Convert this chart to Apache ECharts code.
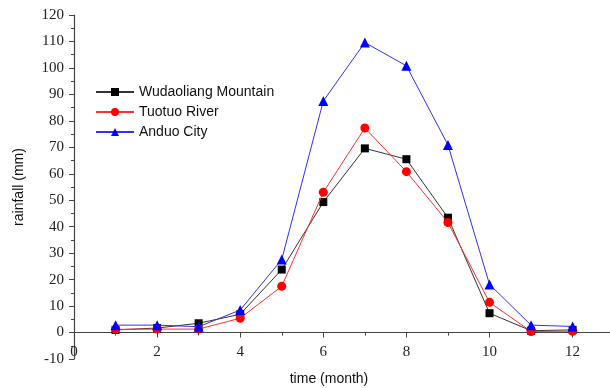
<!DOCTYPE html>
<html>
<head>
<meta charset="utf-8">
<script src="https://cdn.jsdelivr.net/npm/echarts@6/dist/echarts.min.js"></script>
<style>html,body{margin:0;padding:0;background:#fff}#c{width:610px;height:388px}</style>
</head>
<body>
<div id="c"></div>
<script>
const months = [1,2,3,4,5,6,7,8,9,10,11,12];
const seriesNames = ['Wudaoliang Mountain','Tuotuo River','Anduo City'];
const wudaoliang = [1.0, 1.7, 3.5, 6.9, 23.8, 49.3, 69.6, 65.5, 43.4, 7.3, 0.7, 1.0];
const tuotuo     = [1.2, 1.3, 1.3, 5.4, 17.5, 53.0, 77.3, 60.8, 41.6, 11.4, 0.4, 0.5];
const anduo      = [2.8, 2.8, 2.2, 8.5, 27.6, 87.5, 109.6, 100.8, 70.9, 18.2, 2.8, 2.3];
const yTicks = {min: -10, max: 120, step: 10};
const xTicks = {min: 0, max: 12.9, step: 2};

const W = 610, H = 388;
const grid = {left: 74, top: 15, right: 0, bottom: 29};
const plotH = H - grid.top - grid.bottom;
// distance from the bottom of the plot (y = min) up to y = 0
const zeroOffset = -plotH * (0 - yTicks.min) / (yTicks.max - yTicks.min);

const toPairs = arr => months.map((m, i) => [m, arr[i]]);
const chart = echarts.init(document.getElementById('c'));
const axisColor = '#444';
const serif = 'Liberation Serif';
const sans = 'Liberation Sans';
chart.setOption({
  animation: false,
  backgroundColor: '#fff',
  grid: Object.assign({containLabel: false, outerBoundsMode: 'none'}, grid),
  legend: {
    orient: 'vertical', left: 90, top: 80, itemGap: 6,
    itemWidth: 38, itemHeight: 10,
    textStyle: {fontFamily: sans, fontSize: 14, color: '#111'},
    data: seriesNames
  },
  xAxis: {
    type: 'value', min: xTicks.min, max: xTicks.max, interval: xTicks.step,
    offset: zeroOffset,
    name: 'time (month)', nameLocation: 'middle', nameGap: 40,
    nameTextStyle: {fontFamily: sans, fontSize: 14, color: '#111', padding: [0, 26, 0, 0]},
    axisLine: {onZero: false, lineStyle: {color: axisColor, width: 1.2}},
    axisTick: {inside: false, length: 5, lineStyle: {color: axisColor}},
    minorTick: {show: true, splitNumber: 2, length: 3, lineStyle: {color: axisColor}},
    axisLabel: {fontFamily: serif, fontSize: 15, color: '#222', margin: 12,
      formatter: v => (Math.abs(v - Math.round(v)) < 1e-6 ? String(Math.round(v)) : '')},
    splitLine: {show: false}
  },
  yAxis: {
    type: 'value', min: yTicks.min, max: yTicks.max, interval: yTicks.step,
    name: 'rainfall (mm)', nameLocation: 'middle', nameGap: 48, nameRotate: 90,
    nameTextStyle: {fontFamily: sans, fontSize: 14, color: '#111'},
    axisLine: {show: true, onZero: false, lineStyle: {color: axisColor, width: 1.2}},
    axisTick: {inside: false, length: 5, lineStyle: {color: axisColor}},
    minorTick: {show: true, splitNumber: 2, length: 3, lineStyle: {color: axisColor}},
    axisLabel: {fontFamily: serif, fontSize: 15, color: '#222', margin: 10},
    splitLine: {show: false}
  },
  series: [
    {name: seriesNames[0], type: 'line', data: toPairs(wudaoliang), symbol: 'rect', symbolSize: 8,
     itemStyle: {color: '#000'}, lineStyle: {color: '#333', width: 1}, z: 3},
    {name: seriesNames[1], type: 'line', data: toPairs(tuotuo), symbol: 'circle', symbolSize: 9,
     itemStyle: {color: '#ff0000'}, lineStyle: {color: '#ff3030', width: 1}, z: 4},
    {name: seriesNames[2], type: 'line', data: toPairs(anduo), symbol: 'triangle', symbolSize: 10,
     itemStyle: {color: '#0000ff'}, lineStyle: {color: '#3030ff', width: 1}, z: 5}
  ]
});
</script>
</body>
</html>
